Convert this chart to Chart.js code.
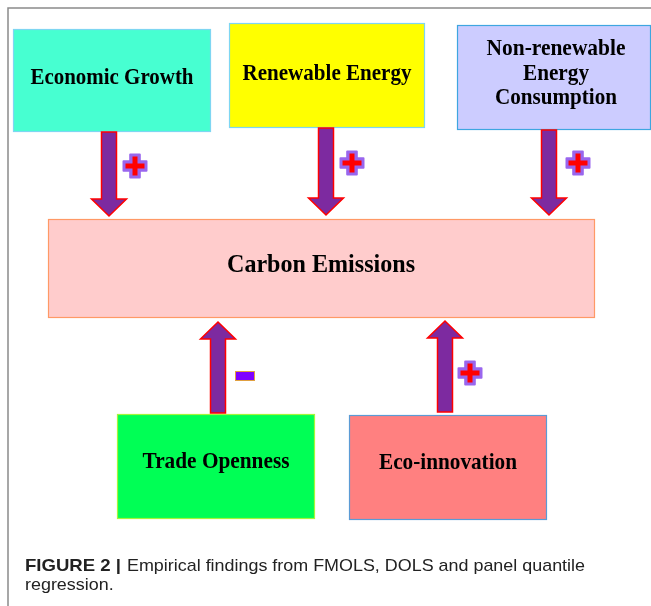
<!DOCTYPE html>
<html><head><meta charset="utf-8">
<script src="https://cdn.jsdelivr.net/npm/chart.js@4/dist/chart.umd.min.js"></script>
<style>html,body{margin:0;padding:0;background:#fff;}canvas{display:block;}</style>
</head><body>
<canvas id="c" width="651" height="606"></canvas>
<script>
// ---- data ----
const factors = ['Economic Growth', 'Renewable Energy', 'Non-renewable\nEnergy\nConsumption', 'Trade Openness', 'Eco-innovation'];
const outcome = 'Carbon Emissions';
const effects = ['+', '+', '+', '-', '+'];
const captionBold = 'FIGURE 2 |';
const captionText = ['Empirical findings from FMOLS, DOLS and panel quantile', 'regression.'];

// ---- layout (in scale units) ----
const factorBoxes = [
  {x0: 13, x1: 211, y0: 29, y1: 132, fill: '#47FFD1', stroke: '#7ED6F2', base: [84], tw: [163]},
  {x0: 229, x1: 425, y0: 23, y1: 128, fill: '#FFFF00', stroke: '#7ED6F2', base: [80], tw: [169]},
  {x0: 457, x1: 651, y0: 25, y1: 130, fill: '#CCCCFF', stroke: '#3EA6E0', base: [55, 80, 104], tw: [139, 66, 122]},
  {x0: 117, x1: 315, y0: 414, y1: 519, fill: '#00FF55', stroke: '#A6F53A', base: [468], tw: [147]},
  {x0: 349, x1: 547, y0: 415, y1: 520, fill: '#FF8080', stroke: '#5B9BD5', base: [469], tw: [138]}
];
const outcomeBox = {x0: 48, x1: 595, y0: 219, y1: 318, fill: '#FFCCCC', stroke: '#FF9966', base: 272, tw: 188};
const arrows = [
  {cx: 109, from: 132, tip: 216, sx: 135, sy: 166},
  {cx: 326, from: 128, tip: 215, sx: 352, sy: 163},
  {cx: 549, from: 130, tip: 215, sx: 578, sy: 163},
  {cx: 218, from: 413, tip: 322, sx: 245, sy: 376},
  {cx: 445, from: 412, tip: 321, sx: 470, sy: 373}
];

const diagram = {
  id: 'diagram',
  afterDraw(chart) {
    const ctx = chart.ctx;
    const X = v => chart.scales.x.getPixelForValue(v);
    const Y = v => chart.scales.y.getPixelForValue(v);

    // frame
    ctx.save();
    ctx.strokeStyle = '#8a8a8a';
    ctx.lineWidth = 1.5;
    ctx.beginPath();
    ctx.moveTo(X(8), Y(606)); ctx.lineTo(X(8), Y(8)); ctx.lineTo(X(651), Y(8));
    ctx.stroke();
    ctx.restore();

    function box(b) {
      ctx.save();
      ctx.fillStyle = b.fill;
      ctx.strokeStyle = b.stroke;
      ctx.lineWidth = 1.2;
      const x = X(b.x0), y = Y(b.y0), w = X(b.x1) - x, h = Y(b.y1) - y;
      ctx.fillRect(x, y, w, h);
      ctx.strokeRect(x + 0.5, y + 0.5, w - 1, h - 1);
      ctx.restore();
    }
    function fitText(t, cx, by, font, width) {
      ctx.save();
      ctx.font = font;
      ctx.fillStyle = '#000';
      ctx.textAlign = 'center';
      ctx.textBaseline = 'alphabetic';
      const m = ctx.measureText(t).width;
      const s = width / m;
      ctx.translate(cx, by);
      ctx.scale(s, 1);
      ctx.fillText(t, 0, 0);
      ctx.restore();
    }
    const serif = 'bold 24px "Liberation Serif", "Times New Roman", serif';

    factors.forEach((f, i) => {
      const b = factorBoxes[i];
      box(b);
      const lines = f.split('\n');
      const cx = X((b.x0 + b.x1) / 2) + (i === 2 ? 2 : 0);
      lines.forEach((ln, k) => {
        fitText(ln, cx, Y(b.base[k]), serif, b.tw[k]);
      });
    });
    box(outcomeBox);
    fitText(outcome, X((outcomeBox.x0 + outcomeBox.x1) / 2) - 0.5, Y(outcomeBox.base), 'bold 26px "Liberation Serif", "Times New Roman", serif', outcomeBox.tw);

    // arrows
    arrows.forEach((a, i) => {
      const dir = a.tip > a.from ? 1 : -1;
      const headLen = 17, hw = 17.5, sw = 7.5;
      const base = a.tip - dir * headLen;
      ctx.save();
      ctx.beginPath();
      ctx.moveTo(X(a.cx - sw), Y(a.from));
      ctx.lineTo(X(a.cx - sw), Y(base));
      ctx.lineTo(X(a.cx - hw), Y(base));
      ctx.lineTo(X(a.cx), Y(a.tip));
      ctx.lineTo(X(a.cx + hw), Y(base));
      ctx.lineTo(X(a.cx + sw), Y(base));
      ctx.lineTo(X(a.cx + sw), Y(a.from));
      ctx.closePath();
      ctx.fillStyle = '#7D2AA0';
      ctx.fill();
      ctx.strokeStyle = '#FF0000';
      ctx.lineWidth = 1.5;
      ctx.stroke();
      ctx.restore();

      // sign
      const sx = X(a.sx), sy = Y(a.sy);
      ctx.save();
      if (effects[i] === '+') {
        const plus = (h, t) => {
          ctx.beginPath();
          ctx.moveTo(sx - t, sy - h); ctx.lineTo(sx + t, sy - h); ctx.lineTo(sx + t, sy - t);
          ctx.lineTo(sx + h, sy - t); ctx.lineTo(sx + h, sy + t); ctx.lineTo(sx + t, sy + t);
          ctx.lineTo(sx + t, sy + h); ctx.lineTo(sx - t, sy + h); ctx.lineTo(sx - t, sy + t);
          ctx.lineTo(sx - h, sy + t); ctx.lineTo(sx - h, sy - t); ctx.lineTo(sx - t, sy - t);
          ctx.closePath();
        };
        plus(11.5, 4.8);
        ctx.fillStyle = '#9966EE';
        ctx.strokeStyle = '#9966EE';
        ctx.lineJoin = 'round';
        ctx.lineWidth = 2;
        ctx.fill();
        ctx.stroke();
        plus(9.5, 2.5);
        ctx.fillStyle = '#FF0000';
        ctx.fill();
      } else {
        ctx.fillStyle = '#7F00FF';
        ctx.fillRect(sx - 9.5, sy - 4.5, 19, 9);
        ctx.strokeStyle = '#E0A040';
        ctx.lineWidth = 1;
        ctx.strokeRect(sx - 9.5, sy - 4.5, 19, 9);
      }
      ctx.restore();
    });

    // caption
    ctx.save();
    ctx.fillStyle = '#222';
    ctx.textBaseline = 'alphabetic';
    ctx.textAlign = 'left';
    ctx.font = 'bold 17px "Liberation Sans", Arial, sans-serif';
    const by = Y(570.5);
    ctx.save();
    ctx.translate(X(25), by);
    const bw = ctx.measureText(captionBold).width;
    ctx.scale(96 / bw, 1);
    ctx.fillText(captionBold, 0, 0);
    ctx.restore();
    ctx.font = '17px "Liberation Sans", Arial, sans-serif';
    ctx.save();
    ctx.translate(X(127), by);
    const tw0 = ctx.measureText(captionText[0]).width;
    const ts = 458 / tw0;
    ctx.scale(ts, 1);
    ctx.fillText(captionText[0], 0, 0);
    ctx.restore();
    ctx.save();
    ctx.translate(X(25), Y(590));
    ctx.scale(ts, 1);
    ctx.fillText(captionText[1], 0, 0);
    ctx.restore();
    ctx.restore();
  }
};

new Chart(document.getElementById('c'), {
  type: 'scatter',
  data: {
    datasets: [{
      label: outcome,
      data: factors.map((f, i) => ({x: (factorBoxes[i].x0 + factorBoxes[i].x1) / 2, y: factorBoxes[i].base[0]})),
      pointRadius: 0,
      showLine: false
    }]
  },
  options: {
    responsive: false,
    devicePixelRatio: 1,
    animation: false,
    layout: {padding: 0},
    plugins: {legend: {display: false}, tooltip: {enabled: false}, title: {display: false}},
    scales: {
      x: {type: 'linear', min: 0, max: 651, display: false},
      y: {type: 'linear', min: 0, max: 606, reverse: true, display: false}
    }
  },
  plugins: [diagram]
});
</script>
</body></html>
